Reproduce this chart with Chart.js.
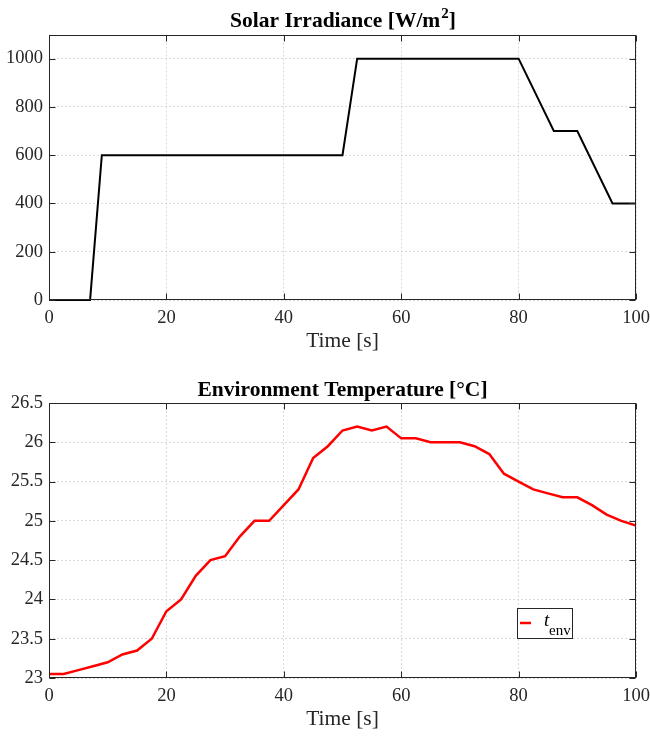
<!DOCTYPE html>
<html lang="en">
<head>
<meta charset="UTF-8">
<title>Solar Irradiance and Environment Temperature</title>
<style>
  body { margin: 0; background: #fff; }
  .panel { position: absolute; left: 0; width: 650px; height: 368px; }
  #top-panel { top: 0; }
  #bottom-panel { top: 368px; }
</style>
</head>
<body>
<div class="panel" id="top-panel"><canvas id="irradiance" width="650" height="368"></canvas></div>
<div class="panel" id="bottom-panel"><canvas id="temperature" width="650" height="368"></canvas></div>

<script src="https://cdn.jsdelivr.net/npm/chart.js"></script>
<script>
// Solar irradiance profile, breakpoints [s] and [W/m2]
const irrTime  = [0, 7, 9, 50, 52.5, 80, 86, 90, 96, 100];
const irrValue = [0, 0, 600, 600, 1000, 1000, 700, 700, 400, 400];

// Environment temperature, read every 2.5 s
const tempTime = [0, 2.5, 5, 7.5, 10, 12.5, 15, 17.5, 20, 22.5,
                  25, 27.5, 30, 32.5, 35, 37.5, 40, 42.5, 45, 47.5,
                  50, 52.5, 55, 57.5, 60, 62.5, 65, 67.5, 70, 72.5,
                  75, 77.5, 80, 82.5, 85, 87.5, 90, 92.5, 95, 97.5, 100];
const tempValue = [23.05, 23.05, 23.1, 23.15, 23.2, 23.3, 23.35, 23.5, 23.85, 24.0,
                   24.3, 24.5, 24.55, 24.8, 25.0, 25.0, 25.2, 25.4, 25.8, 25.95,
                   26.15, 26.2, 26.15, 26.2, 26.05, 26.05, 26.0, 26.0, 26.0, 25.95,
                   25.85, 25.6, 25.5, 25.4, 25.35, 25.3, 25.3, 25.2, 25.08, 25.0, 24.94];

// tick labels
const timeTicks = [0, 20, 40, 60, 80, 100];
const irrTicks  = [0, 200, 400, 600, 800, 1000];
const tempTicks = [23, 23.5, 24, 24.5, 25, 25.5, 26, 26.5];

const serif = "'Liberation Serif', 'Times New Roman', serif";
const ink = '#262626';

Chart.defaults.font.family = serif;
Chart.defaults.color = ink;

// box round the plot, ticks pointing inward on all four sides
const frame = {
  id: 'frame',
  afterDraw(chart) {
    const { ctx, chartArea: a, scales: { x, y } } = chart;
    const l = Math.round(a.left) + 0.5, r = Math.round(a.right) - 0.5;
    const t = Math.round(a.top) + 0.5, b = Math.round(a.bottom) - 0.5;
    ctx.save();
    ctx.strokeStyle = ink;
    ctx.lineWidth = 1;
    ctx.strokeRect(l, t, r - l, b - t);
    ctx.beginPath();
    x.ticks.forEach(tk => {
      const px = Math.round(x.getPixelForValue(tk.value)) + 0.5;
      ctx.moveTo(px, b); ctx.lineTo(px, b - 6);
      ctx.moveTo(px, t); ctx.lineTo(px, t + 6);
    });
    y.ticks.forEach(tk => {
      const py = Math.round(y.getPixelForValue(tk.value)) + 0.5;
      ctx.moveTo(l, py); ctx.lineTo(l + 6, py);
      ctx.moveTo(r, py); ctx.lineTo(r - 6, py);
    });
    ctx.stroke();
    ctx.restore();
  }
};

// bold title above the plot, with optional superscript
const panelTitle = {
  id: 'panelTitle',
  afterDraw(chart, args, o) {
    const { ctx, chartArea: a } = chart;
    const main = `bold ${o.size}px ${serif}`;
    const small = `bold ${Math.round(o.size * 0.68)}px ${serif}`;
    ctx.save();
    ctx.fillStyle = '#000';
    ctx.textBaseline = 'alphabetic';
    ctx.textAlign = 'left';
    ctx.font = main;
    const w1 = ctx.measureText(o.text).width;
    const w3 = o.after ? ctx.measureText(o.after).width : 0;
    ctx.font = small;
    const w2 = o.sup ? ctx.measureText(o.sup).width : 0;
    const x0 = (a.left + a.right) / 2 - (w1 + w2 + w3) / 2;
    const yb = a.top - o.gap;
    ctx.font = main;
    ctx.fillText(o.text, x0, yb);
    if (o.sup) {
      ctx.font = small;
      ctx.fillText(o.sup, x0 + w1 + 1, yb - o.size * 0.42);
    }
    if (o.after) {
      ctx.font = main;
      ctx.fillText(o.after, x0 + w1 + w2 + 1, yb);
    }
    ctx.restore();
  }
};

// MATLAB-like legend box with subscripted label
const subLegend = {
  id: 'subLegend',
  afterDraw(chart, args, o) {
    if (!o.show) return;
    const { ctx, chartArea: a } = chart;
    const ds = chart.data.datasets[0];
    const w = 55, h = 30;
    const x0 = a.right - o.right - w, y0 = a.bottom - o.bottom - h;
    ctx.save();
    ctx.fillStyle = '#fff';
    ctx.fillRect(x0, y0, w, h);
    ctx.strokeStyle = ink;
    ctx.lineWidth = 1;
    ctx.strokeRect(Math.round(x0) + 0.5, Math.round(y0) + 0.5, w, h);
    ctx.strokeStyle = ds.borderColor;
    ctx.lineWidth = ds.borderWidth;
    ctx.beginPath();
    ctx.moveTo(x0 + 3, y0 + 15);
    ctx.lineTo(x0 + 14, y0 + 15);
    ctx.stroke();
    ctx.fillStyle = '#000';
    ctx.textBaseline = 'alphabetic';
    ctx.font = `italic 19px ${serif}`;
    ctx.fillText(o.main, x0 + 27, y0 + 18);
    ctx.font = `15px ${serif}`;
    ctx.fillText(o.sub, x0 + 32, y0 + 27);
    ctx.restore();
  }
};

function xScale(height, titlePad) {
  return {
    type: 'linear',
    min: 0,
    max: 100,
    afterBuildTicks: s => { s.ticks = timeTicks.map(v => ({ value: v })); },
    afterFit: s => { s.height = height; s.paddingLeft = 0; s.paddingRight = 0; },
    ticks: { font: { size: 18.5 }, color: ink, padding: 7, maxRotation: 0, autoSkip: false, callback: v => String(v) },
    grid: { color: '#dadada', drawTicks: false },
    border: { display: false, dash: [2, 2] },
    title: { display: true, text: 'Time [s]', font: { size: 21.5 }, color: ink, padding: { top: 0, bottom: titlePad } }
  };
}

function yScale(min, max, tickList) {
  return {
    min: min,
    max: max,
    afterBuildTicks: s => { s.ticks = tickList.map(v => ({ value: v })); },
    afterFit: s => { s.width = 49; s.paddingTop = 0; s.paddingBottom = 0; },
    ticks: { font: { size: 18.5 }, color: ink, padding: 6, autoSkip: false, callback: v => String(v) },
    grid: { color: '#dadada', drawTicks: false },
    border: { display: false, dash: [2, 2] }
  };
}

new Chart(document.getElementById('irradiance'), {
  type: 'line',
  data: {
    datasets: [{
      label: 'Solar Irradiance',
      data: irrTime.map((t, i) => ({ x: t, y: irrValue[i] })),
      borderColor: '#000000',
      borderWidth: 2,
      pointRadius: 0,
      tension: 0,
      fill: false,
      clip: false
    }]
  },
  options: {
    responsive: false,
    animation: false,
    layout: { padding: { top: 34.5, right: 14, bottom: 0, left: 0 } },
    scales: { x: xScale(68, 14), y: yScale(0, 1100, irrTicks) },
    plugins: {
      legend: { display: false },
      tooltip: { enabled: false },
      panelTitle: { text: 'Solar Irradiance [W/m', sup: '2', after: ']', size: 21.5, gap: 7.5 },
      subLegend: { show: false }
    }
  },
  plugins: [frame, panelTitle, subLegend]
});

new Chart(document.getElementById('temperature'), {
  type: 'line',
  data: {
    datasets: [{
      label: 'tenv',
      data: tempTime.map((t, i) => ({ x: t, y: tempValue[i] })),
      borderColor: '#ff0000',
      borderWidth: 2.5,
      pointRadius: 0,
      tension: 0,
      fill: false
    }]
  },
  options: {
    responsive: false,
    animation: false,
    layout: { padding: { top: 35, right: 14, bottom: 0, left: 0 } },
    scales: { x: xScale(58, 4), y: yScale(23, 26.5, tempTicks) },
    plugins: {
      legend: { display: false },
      tooltip: { enabled: false },
      panelTitle: { text: 'Environment Temperature [°C]', size: 21.5, gap: 7 },
      subLegend: { show: true, main: 't', sub: 'env', right: 64, bottom: 40 }
    }
  },
  plugins: [frame, panelTitle, subLegend]
});
</script>
</body>
</html>
